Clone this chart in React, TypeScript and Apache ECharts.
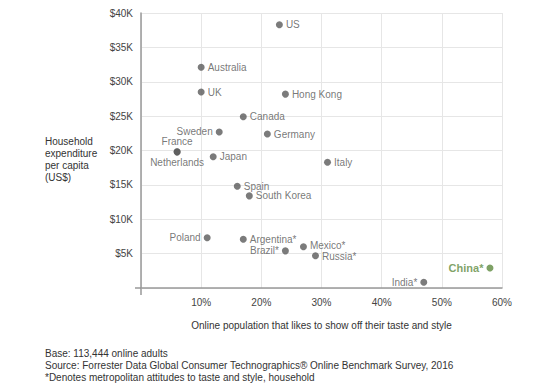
import React, { useEffect, useRef } from "react";
import * as echarts from "echarts";

const countries = ["US", "Australia", "UK", "Hong Kong", "Canada", "Sweden", "Germany", "France", "Netherlands", "Japan", "Italy", "Spain", "South Korea", "Poland", "Argentina*", "Brazil*", "Mexico*", "Russia*", "India*", "China*"];
const showOff = [23, 10, 10, 24, 17, 13, 21, 6, 6, 12, 31, 16, 18, 11, 17, 24, 27, 29, 47, 58];
const spend = [38300, 32100, 28500, 28200, 24900, 22700, 22400, 19800, 19800, 19100, 18300, 14800, 13400, 7300, 7100, 5400, 6000, 4700, 830, 2900];
const yTicks = ["", "$5K", "$10K", "$15K", "$20K", "$25K", "$30K", "$35K", "$40K"];
const xTicks = ["", "10%", "20%", "30%", "40%", "50%", "60%"];
const footer = [
  "Base: 113,444 online adults",
  "Source: Forrester Data Global Consumer Technographics® Online Benchmark Survey, 2016",
  "*Denotes metropolitan attitudes to taste and style, household",
];

const labelSide: Record<string, string> = {
  Sweden: "left",
  France: "top",
  Netherlands: "bottom",
  Poland: "left",
  "Brazil*": "left",
  "India*": "left",
  "China*": "left",
};
const labelNudge: Record<string, number[]> = {
  "Mexico*": [0, -1],
  "Russia*": [0, 1],
};

const FONT = "Liberation Sans, Arial, Helvetica, sans-serif";

export default function App() {
  const ref = useRef<HTMLDivElement>(null);
  useEffect(() => {
    if (!ref.current) return;
    const chart = echarts.init(ref.current, undefined, { renderer: "svg" });
    const data = countries.map((c, i) => {
      const isChina = c === "China*";
      const pos = labelSide[c] || "right";
      return {
        name: c,
        value: [showOff[i], spend[i]],
        itemStyle: { color: isChina ? "#5e8a3e" : "#5a5a5a" },
        label: {
          show: true,
          formatter: c,
          position: pos,
          offset: labelNudge[c] || [0, 0],
          distance: pos === "top" || pos === "bottom" ? 2 : 3,
          color: isChina ? "#5e8a3e" : "#555",
          fontWeight: isChina ? "bold" : "normal",
          fontSize: isChina ? 11 : 10,
          lineHeight: isChina ? 12 : 10,
          fontFamily: FONT,
        },
      };
    });
    chart.setOption({
      animation: false,
      textStyle: { fontFamily: FONT },
      grid: { left: 141, right: 50, top: 13, bottom: 99 },
      xAxis: {
        type: "value",
        min: 0,
        max: 60,
        interval: 10,
        name: "Online population that likes to show off their taste and style",
        nameLocation: "middle",
        nameGap: 32,
        nameTextStyle: { color: "#333", fontSize: 10, fontFamily: FONT },
        axisLine: { show: true, lineStyle: { color: "#999", width: 1.5 } },
        axisTick: { show: false },
        axisLabel: {
          color: "#444",
          fontSize: 10,
          margin: 9,
          fontFamily: FONT,
          formatter: (v: number) => xTicks[Math.round(v / 10)] ?? "",
        },
        splitLine: { show: true, lineStyle: { color: "#e6e6e6", width: 1 } },
      },
      yAxis: {
        type: "value",
        min: 0,
        max: 40000,
        interval: 5000,
        axisLine: { show: true, lineStyle: { color: "#999", width: 1.5 } },
        axisTick: { show: false },
        axisLabel: {
          color: "#444",
          fontSize: 10,
          margin: 8,
          fontFamily: FONT,
          formatter: (v: number) => yTicks[Math.round(v / 5000)] ?? "",
        },
        splitLine: { show: true, lineStyle: { color: "#e6e6e6", width: 1 } },
      },
      series: [
        {
          type: "scatter",
          symbolSize: 7,
          data,
          z: 3,
        },
      ],
      graphic: [
        { type: "line", shape: { x1: 135, y1: 288, x2: 141, y2: 288 }, style: { stroke: "#999", lineWidth: 1.5 } },
        { type: "line", shape: { x1: 141, y1: 288, x2: 141, y2: 295 }, style: { stroke: "#999", lineWidth: 1.5 } },
        {
          type: "text",
          left: 45,
          top: 135,
          style: {
            text: "Household\nexpenditure\nper capita\n(US$)",
            fill: "#333",
            fontSize: 10,
            lineHeight: 12,
            fontFamily: FONT,
          },
        },
        {
          type: "text",
          left: 45,
          top: 347,
          style: {
            text: footer.join("\n"),
            fill: "#333",
            fontSize: 10,
            lineHeight: 12,
            fontFamily: FONT,
          },
        },
      ],
    });
    return () => chart.dispose();
  }, []);
  return <div ref={ref} style={{ width: 552, height: 387, position: "absolute", left: 0, top: 0, background: "#fff" }} />;
}
